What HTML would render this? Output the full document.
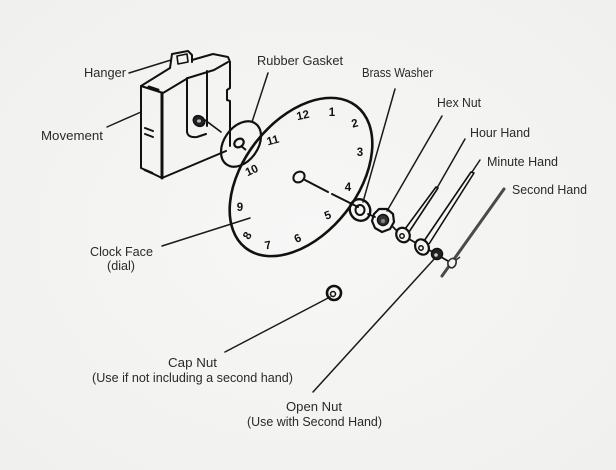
<!DOCTYPE html>
<html><head><meta charset="utf-8"><style>
html,body{margin:0;padding:0;background:#f5f5f3;}
svg{display:block;}
.lb{font-family:"Liberation Sans",sans-serif;font-size:12.5px;fill:#2a2a2a;}
.nm{font-family:"Liberation Sans",sans-serif;font-size:11.5px;font-weight:bold;fill:#111;text-anchor:middle;dominant-baseline:central;}
</style></head><body>
<svg width="616" height="470" viewBox="0 0 616 470" xmlns="http://www.w3.org/2000/svg">
<defs>
<radialGradient id="bg" cx="0.5" cy="0.5" r="0.8">
<stop offset="0" stop-color="#f7f7f6"/><stop offset="1" stop-color="#efefed"/>
</radialGradient>
</defs>
<rect width="616" height="470" fill="url(#bg)"/>

<!-- Labels -->
<text class="lb" x="84" y="77" textLength="42" lengthAdjust="spacingAndGlyphs">Hanger</text>
<text class="lb" x="41" y="140" textLength="62" lengthAdjust="spacingAndGlyphs">Movement</text>
<text class="lb" x="257" y="65" textLength="86" lengthAdjust="spacingAndGlyphs">Rubber Gasket</text>
<text class="lb" x="362" y="77" textLength="71" lengthAdjust="spacingAndGlyphs">Brass Washer</text>
<text class="lb" x="437" y="107" textLength="44" lengthAdjust="spacingAndGlyphs">Hex Nut</text>
<text class="lb" x="470" y="137" textLength="60" lengthAdjust="spacingAndGlyphs">Hour Hand</text>
<text class="lb" x="487" y="166" textLength="71" lengthAdjust="spacingAndGlyphs">Minute Hand</text>
<text class="lb" x="512" y="194" textLength="75" lengthAdjust="spacingAndGlyphs">Second Hand</text>
<text class="lb" x="90" y="256" textLength="63" lengthAdjust="spacingAndGlyphs">Clock Face</text>
<text class="lb" x="107" y="270" textLength="28" lengthAdjust="spacingAndGlyphs">(dial)</text>
<text class="lb" x="168" y="367" textLength="49" lengthAdjust="spacingAndGlyphs">Cap Nut</text>
<text class="lb" x="92" y="382" textLength="201" lengthAdjust="spacingAndGlyphs">(Use if not including a second hand)</text>
<text class="lb" x="286" y="411" textLength="56" lengthAdjust="spacingAndGlyphs">Open Nut</text>
<text class="lb" x="247" y="426" textLength="135" lengthAdjust="spacingAndGlyphs">(Use with Second Hand)</text>

<!-- Leader lines -->
<g stroke="#1a1a1a" stroke-width="1.5" fill="none" stroke-linecap="round">
<line x1="129" y1="73" x2="171" y2="60"/>
<line x1="107" y1="127" x2="141" y2="112"/>
<line x1="268" y1="73" x2="252" y2="122"/>
<line x1="395" y1="89" x2="363" y2="202"/>
<line x1="442" y1="116" x2="387" y2="211"/>
<line x1="465" y1="139" x2="437" y2="188"/>
<line x1="480" y1="160" x2="472" y2="172"/>
<line x1="162" y1="246" x2="250" y2="218"/>
<line x1="225" y1="352" x2="330" y2="297"/>
<line x1="313" y1="392" x2="436" y2="257"/>
</g>

<!-- Movement -->
<g stroke="#111" stroke-width="2" fill="none" stroke-linejoin="round" stroke-linecap="round">
<path d="M170,68 L172,54 L188,51 L192,55 L192,62"/>
<path d="M177,56 L187,54 L188,62 L178,64 Z" stroke-width="1.6"/>
<path d="M192,60 L213,54 L228,57 L230,62 L230,88 L227,90 L227,100 L230,101 L230,146"/>
<path d="M188,78 L214,70 L228,62"/>
<path d="M207,71 L207,126"/>
<path d="M141,86 L170,68"/>
<path d="M141,86 L163,93 L188,78"/>
<path d="M141,86 L141,168 L162,178 L226,151"/>
<path d="M162,93 L162,178" stroke-width="3"/>
<path d="M187,78 L187,132 Q188,138 197,137 L206,134"/>
<path d="M149,87 L158,90" stroke-width="3"/>
<path d="M145,128 L153,131"/>
<path d="M145,134 L153,137"/>
<path d="M145,170 L152,173" stroke-width="2.5"/>
<path d="M205,120 L221,132" stroke-width="1.6"/>
</g>
<ellipse cx="199" cy="121" rx="6" ry="5" fill="#222" stroke="#111" stroke-width="1.5" transform="rotate(35 199 121)"/>
<ellipse cx="199" cy="121" rx="2" ry="1.6" fill="#bbb"/>

<!-- Gasket -->
<ellipse cx="241" cy="144" rx="25" ry="17" fill="none" stroke="#111" stroke-width="2.2" transform="rotate(-55 241 144)"/>
<ellipse cx="239" cy="143" rx="5" ry="4" fill="none" stroke="#111" stroke-width="2.2" transform="rotate(-35 239 143)"/>
<line x1="241" y1="146" x2="246" y2="150" stroke="#111" stroke-width="2"/>

<!-- Clock face -->
<ellipse cx="301" cy="177" rx="90" ry="57" fill="none" stroke="#111" stroke-width="2.6" transform="rotate(-52 301 177)"/>
<ellipse cx="299" cy="177" rx="6" ry="5" fill="none" stroke="#111" stroke-width="2" transform="rotate(-40 299 177)"/>
<g stroke="#111" stroke-width="2" stroke-linecap="round">
<line x1="305" y1="180" x2="328" y2="192"/>
<line x1="332" y1="194" x2="358" y2="207"/>
</g>
<text class="nm" x="303" y="116" transform="rotate(-12 303 116)">12</text>
<text class="nm" x="332" y="113">1</text>
<text class="nm" x="355" y="124" transform="rotate(-15 355 124)">2</text>
<text class="nm" x="360" y="153">3</text>
<text class="nm" x="348" y="188">4</text>
<text class="nm" x="328" y="216" transform="rotate(-20 328 216)">5</text>
<text class="nm" x="298" y="239" transform="rotate(-25 298 239)">6</text>
<text class="nm" x="268" y="246" transform="rotate(-10 268 246)">7</text>
<text class="nm" x="248" y="236" transform="rotate(-60 248 236)">8</text>
<text class="nm" x="240" y="208">9</text>
<text class="nm" x="252" y="171" transform="rotate(-25 252 171)">10</text>
<text class="nm" x="273" y="141" transform="rotate(-15 273 141)">11</text>

<!-- Axis connectors -->
<g stroke="#111" stroke-width="1.8" stroke-linecap="round">
<line x1="368" y1="214" x2="375" y2="217"/>
<line x1="392" y1="226" x2="397" y2="231"/>
<line x1="409" y1="239" x2="416" y2="243"/>
<line x1="429" y1="250" x2="433" y2="252"/>
<line x1="441" y1="257" x2="448" y2="261"/>
</g>

<!-- Brass washer -->
<ellipse cx="360" cy="210" rx="10" ry="11" fill="none" stroke="#111" stroke-width="2.4" transform="rotate(-30 360 210)"/>
<ellipse cx="360" cy="210" rx="4.5" ry="5" fill="none" stroke="#111" stroke-width="2"/>

<!-- Hex nut -->
<path d="M374,214 L379,209 L387,209 L393,214 L394,222 L390,229 L382,232 L375,228 L372,221 Z" fill="none" stroke="#111" stroke-width="2.2" stroke-linejoin="round"/>
<circle cx="383" cy="220" r="5.5" fill="#333" stroke="#111" stroke-width="1.5"/>
<circle cx="383" cy="221" r="2" fill="#888"/>

<!-- Hour hand -->
<path d="M405,229 L436,187 L438,188 L409,232" fill="none" stroke="#111" stroke-width="1.6" stroke-linejoin="round"/>
<ellipse cx="403" cy="235" rx="6.5" ry="7.5" fill="#f5f5f3" stroke="#111" stroke-width="2.2" transform="rotate(-30 403 235)"/>
<circle cx="402" cy="236" r="2.2" fill="none" stroke="#111" stroke-width="1.5"/>

<!-- Minute hand -->
<path d="M424,241 L471,172 L474,173 L429,244" fill="none" stroke="#111" stroke-width="1.6" stroke-linejoin="round"/>
<ellipse cx="422" cy="247" rx="6.5" ry="8" fill="#f5f5f3" stroke="#111" stroke-width="2.2" transform="rotate(-30 422 247)"/>
<circle cx="421" cy="248" r="2.2" fill="none" stroke="#111" stroke-width="1.5"/>

<!-- Open nut -->
<circle cx="437" cy="254" r="5.5" fill="#222" stroke="#111" stroke-width="1.5"/>
<circle cx="436" cy="255" r="1.8" fill="#ccc"/>

<!-- Second hand -->
<line x1="442" y1="276" x2="504" y2="189" stroke="#4a4a4a" stroke-width="3" stroke-linecap="round"/>
<path d="M448,262 Q452,256 456,260 Q457,266 452,268 Q447,267 448,262 Z" fill="#f5f5f3" stroke="#333" stroke-width="1.6"/>
<line x1="456" y1="260" x2="460" y2="257" stroke="#333" stroke-width="1.5"/>

<!-- Cap nut -->
<circle cx="334" cy="293" r="7" fill="none" stroke="#111" stroke-width="2.6"/>
<circle cx="333" cy="294" r="2.5" fill="none" stroke="#111" stroke-width="1.5"/>
</svg>
</body></html>
